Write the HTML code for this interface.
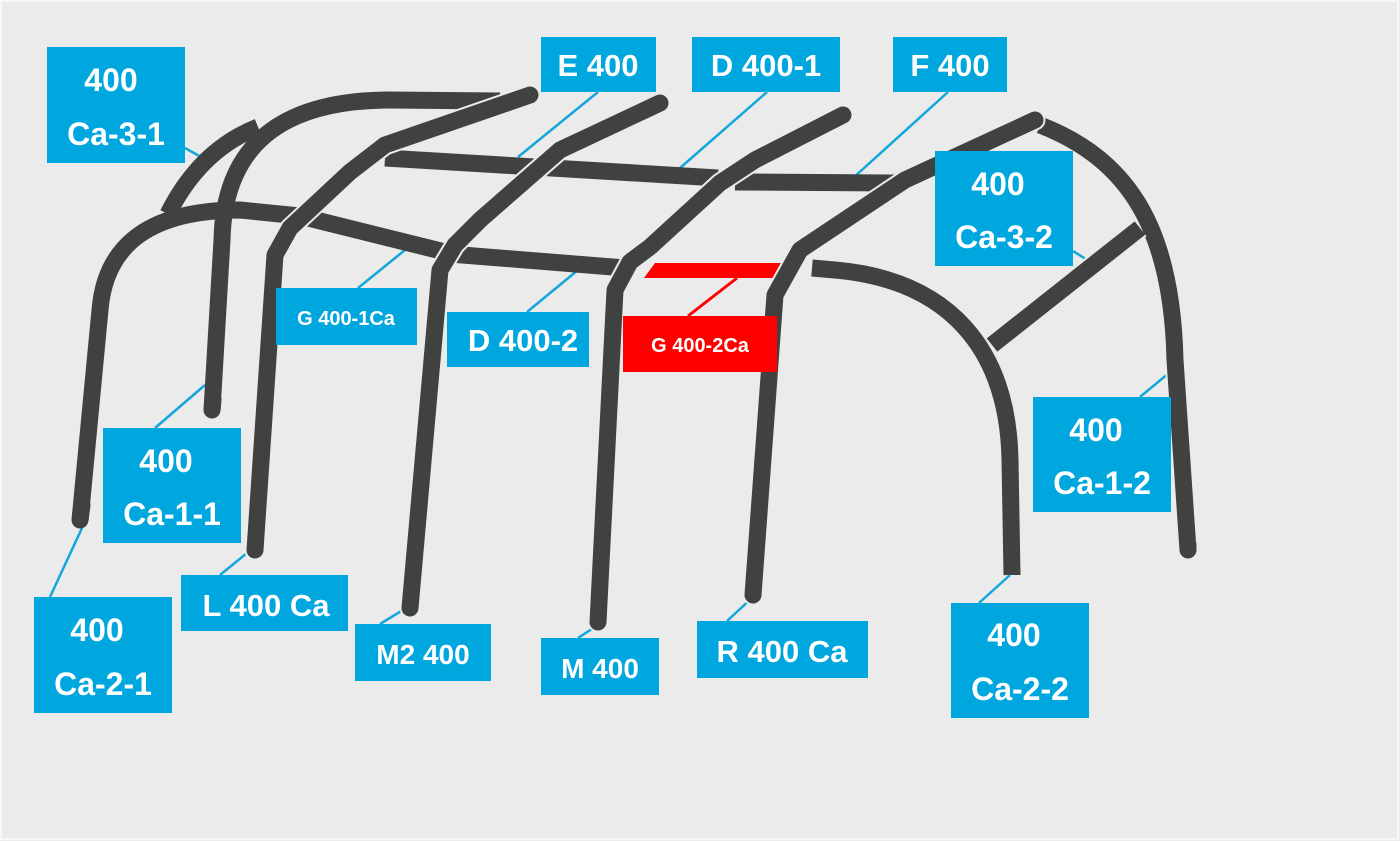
<!DOCTYPE html>
<html><head><meta charset="utf-8"><style>
html,body{margin:0;padding:0;background:#ebebeb;}
svg{display:block}
text{font-family:"Liberation Sans",sans-serif;font-weight:bold;fill:#fff;text-anchor:middle}
</style></head><body>
<svg width="1400" height="841" viewBox="0 0 1400 841">
<rect x="0" y="0" width="1400" height="841" fill="#ebebeb"/>
<rect x="1" y="1" width="1397" height="838" fill="none" stroke="#f7f7f7" stroke-width="2"/>
<g fill="none" stroke-linejoin="round">
<!-- leader lines -->
<g stroke="#13a6dc" stroke-width="2.5">
<line x1="185" y1="148" x2="210" y2="162"/>
<line x1="598" y1="92" x2="518" y2="157"/>
<line x1="767" y1="92" x2="680" y2="168"/>
<line x1="948" y1="92" x2="853" y2="178"/>
<line x1="1073" y1="251" x2="1092" y2="263"/>
<line x1="358" y1="288" x2="405" y2="250"/>
<line x1="527" y1="312" x2="578" y2="270"/>
<line x1="155" y1="428" x2="205" y2="385"/>
<line x1="1140" y1="397" x2="1175" y2="368"/>
<line x1="50" y1="597" x2="82" y2="528"/>
<line x1="220" y1="575" x2="247" y2="553"/>
<line x1="380" y1="624" x2="408" y2="607"/>
<line x1="578" y1="638" x2="598" y2="625"/>
<line x1="727" y1="621" x2="753" y2="597"/>
<line x1="979" y1="603" x2="1010" y2="575"/>
</g>
<line x1="688" y1="316" x2="737" y2="278" stroke="#f00" stroke-width="3"/>
<polygon points="655,263 787,263 780,278 644,278" fill="#f00" stroke="none"/>
<!-- pipes -->
<g stroke-width="17" stroke="#404241">
<path d="M168,214 Q200,150 258,127"/>
<path d="M212,410 L222,240 Q225,100 390,100 L500,101"/>
<path d="M385,158 L718,178"/>
<path d="M735,182 L895,183"/>
<path d="M80,520 L100,310 Q108,210 240,210 L300,216 L445,252"/>
<path d="M450,254 L625,268"/>
<path d="M812,268 L835,270 C950,280 1008,350 1010,460 L1012,575" stroke="#ebebeb" stroke-width="21"/>
<path d="M812,268 L835,270 C950,280 1008,350 1010,460 L1012,575" stroke-linecap="butt"/>
<path d="M1040,125 C1130,160 1172,230 1175,360 L1188,550" stroke="#ebebeb" stroke-width="21"/>
<path d="M1040,125 C1130,160 1172,230 1175,360 L1188,550"/>
<path d="M992,345 L1140,228" stroke="#ebebeb" stroke-width="21"/>
<path d="M992,345 L1140,228" stroke-linecap="butt"/>
<g stroke-linecap="round">
<path d="M255,550 L275,255 L290,228 L350,172 L385,145 L530,95" stroke="#ebebeb" stroke-width="21"/>
<path d="M255,550 L275,255 L290,228 L350,172 L385,145 L530,95"/>
<path d="M410,608 L440,270 L455,245 L480,220 L560,150 L660,103" stroke="#ebebeb" stroke-width="21"/>
<path d="M410,608 L440,270 L455,245 L480,220 L560,150 L660,103"/>
<path d="M598,622 L615,290 L630,262 L650,247 L720,183 L755,160 L843,115" stroke="#ebebeb" stroke-width="21"/>
<path d="M598,622 L615,290 L630,262 L650,247 L720,183 L755,160 L843,115"/>
<path d="M753,595 L775,295 L800,250 L905,180 L1035,120" stroke="#ebebeb" stroke-width="21"/>
<path d="M753,595 L775,295 L800,250 L905,180 L1035,120"/>
<path d="M80,520 L82,505"/><path d="M212,410 L213,400"/><path d="M1012,575 L1012,570" stroke-linecap="butt"/><path d="M1188,550 L1188,545"/>
</g>
</g>
</g>
<!-- labels -->
<g fill="#00a6de">
<rect x="47" y="47" width="138" height="116"/>
<rect x="541" y="37" width="115" height="55"/>
<rect x="692" y="37" width="148" height="55"/>
<rect x="893" y="37" width="114" height="55"/>
<rect x="935" y="151" width="138" height="115"/>
<rect x="276" y="288" width="141" height="57"/>
<rect x="447" y="312" width="142" height="55"/>
<rect x="103" y="428" width="138" height="115"/>
<rect x="1033" y="397" width="138" height="115"/>
<rect x="34" y="597" width="138" height="116"/>
<rect x="181" y="575" width="167" height="56"/>
<rect x="355" y="624" width="136" height="57"/>
<rect x="541" y="638" width="118" height="57"/>
<rect x="697" y="621" width="171" height="57"/>
<rect x="951" y="603" width="138" height="115"/>
</g>
<rect x="623" y="316" width="154" height="56" fill="#f00"/>
<g font-size="32">
<text x="111" y="91">400</text><text x="116" y="145">Ca-3-1</text>
<text x="598" y="76" font-size="31">E 400</text>
<text x="766" y="76" font-size="31">D 400-1</text>
<text x="950" y="76" font-size="31">F 400</text>
<text x="998" y="195">400</text><text x="1004" y="248">Ca-3-2</text>
<text x="346" y="325" font-size="20">G 400-1Ca</text>
<text x="523" y="351" font-size="31">D 400-2</text>
<text x="700" y="352" font-size="20">G 400-2Ca</text>
<text x="166" y="472">400</text><text x="172" y="525">Ca-1-1</text>
<text x="1096" y="441">400</text><text x="1102" y="494">Ca-1-2</text>
<text x="97" y="641">400</text><text x="103" y="695">Ca-2-1</text>
<text x="266" y="616" font-size="31">L 400 Ca</text>
<text x="423" y="664" font-size="28">M2 400</text>
<text x="600" y="678" font-size="28">M 400</text>
<text x="782" y="662" font-size="31">R 400 Ca</text>
<text x="1014" y="646">400</text><text x="1020" y="700">Ca-2-2</text>
</g>
</svg>
</body></html>
